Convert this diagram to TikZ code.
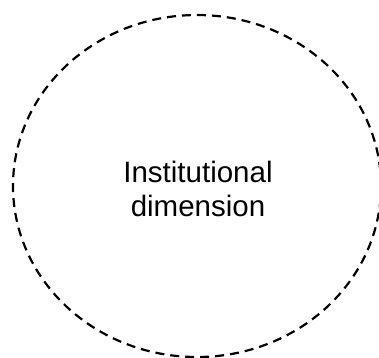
\documentclass[tikz,border=0pt]{standalone}
\usepackage{fontspec}
\setmainfont{Liberation Sans}
\usetikzlibrary{shapes.geometric}
\tikzset{
  dim/.style={ellipse, draw=black, line width=2.2bp, dash pattern=on 9bp off 6bp,
    minimum width=368bp, minimum height=342bp, inner sep=0pt},
  lbl/.style={align=center, font=\fontsize{29.5bp}{34bp}\selectfont, inner sep=0pt}
}
\begin{document}
\begin{tikzpicture}[x=1bp,y=-1bp]
\useasboundingbox (0,0) rectangle (379,358);
\node[dim] (inst) at (197,186) {};
\node[lbl] (txt) at (198,189) {Institutional\\dimension};
\end{tikzpicture}
\end{document}
